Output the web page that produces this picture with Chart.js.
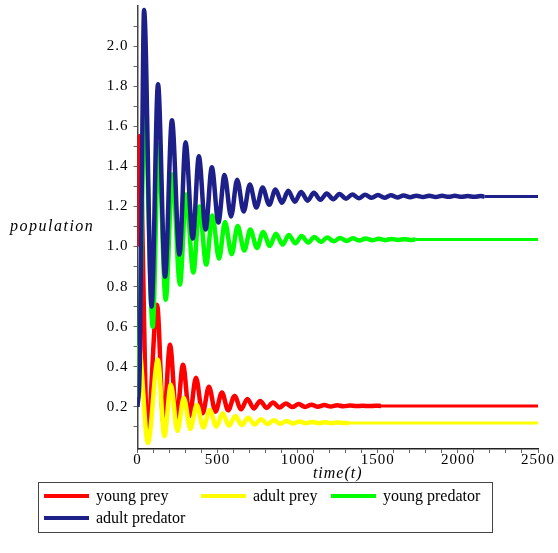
<!DOCTYPE html>
<html>
<head>
<meta charset="utf-8">
<script src="https://cdn.jsdelivr.net/npm/chart.js@4.4.1/dist/chart.umd.min.js"></script>
<style>
  html, body { margin: 0; padding: 0; background: #fff; }
  #wrap { width: 558px; height: 553px; position: relative; font-family: "Liberation Serif", "DejaVu Serif", serif; }
  #ylabel { position: absolute; left: 10px; top: 217px; font-style: italic; font-size: 16px; letter-spacing: 1.5px; }
  #legend { position: absolute; left: 38px; top: 482px; width: 453px; border: 1px solid #444;
            display: flex; flex-wrap: wrap; padding: 2px 0 3px 0; font-size: 16px; }
  #legend .item { display: flex; align-items: center; height: 22px; }
  #legend .swatch { width: 45px; height: 4px; margin: 0 7px 0 5px; }
</style>
</head>
<body>
<div id="wrap">
  <canvas id="chart" width="558" height="553"></canvas>
  <div id="ylabel">population</div>
  <div id="legend"></div>
</div>
<script>
// population curves: [time, value] at start, each peak/trough, and where the wiggle stops
const youngPrey = [[0,1.0],[12,1.55],[62,0.06],[122,0.71],[163,0.115],[203,0.51],[244,0.14],[284,0.41],[325,0.155],[365,0.345],
  [406,0.168],[446,0.30],[487,0.176],[527,0.272],[566,0.183],[606,0.255],[646,0.188],[686,0.24],[726,0.192],[766,0.23],
  [806,0.195],[846,0.222],[886,0.197],[926,0.217],[966,0.199],[1006,0.214],[1046,0.2],[1086,0.211],[1126,0.201],[1166,0.209],
  [1206,0.202],[1246,0.208],[1286,0.203],[1326,0.207],[1366,0.204],[1406,0.206],[1446,0.204],[1486,0.206],[1520,0.205],[2500,0.205]];

const adultPrey = [[0,0.25],[8,0.5],[65,0.02],[127,0.435],[168,0.055],[208,0.31],[249,0.08],[289,0.245],[330,0.09],[370,0.21],
  [411,0.097],[451,0.185],[492,0.102],[532,0.168],[571,0.106],[611,0.155],[651,0.109],[691,0.146],[731,0.112],[771,0.139],
  [811,0.114],[851,0.134],[891,0.116],[931,0.13],[971,0.117],[1011,0.127],[1051,0.118],[1091,0.125],[1131,0.119],[1171,0.123],
  [1211,0.119],[1251,0.122],[1291,0.12],[1320,0.12],[2500,0.12]];

const youngPredator = [[0,0.25],[20,0.8],[44,1.74],[95,0.6],[131,1.51],[176,0.735],[218,1.36],[265,0.81],[303,1.26],[349,0.87],
  [386,1.2],[429,0.91],[467,1.155],[509,0.94],[546,1.122],[588,0.962],[625,1.102],[667,0.98],[704,1.085],[746,0.993],
  [784,1.073],[826,1.003],[864,1.064],[906,1.01],[944,1.057],[986,1.016],[1024,1.052],[1066,1.02],[1104,1.048],[1146,1.023],
  [1184,1.045],[1226,1.026],[1264,1.043],[1306,1.028],[1344,1.041],[1386,1.03],[1424,1.04],[1466,1.031],[1504,1.039],[1546,1.032],
  [1584,1.038],[1626,1.033],[1664,1.037],[1706,1.033],[1735,1.035],[2500,1.035]];

const adultPredator = [[0,0.2],[14,0.4],[28,1.4],[41,2.18],[88,0.70],[128,1.81],[172,0.85],[215,1.63],[262,0.96],[300,1.52],
  [345,1.04],[383,1.45],[425,1.085],[464,1.395],[505,1.12],[543,1.357],[584,1.15],[622,1.333],[663,1.175],[701,1.31],
  [742,1.195],[781,1.295],[822,1.208],[861,1.284],[902,1.218],[941,1.278],[982,1.224],[1021,1.272],[1062,1.229],[1101,1.268],
  [1142,1.233],[1181,1.265],[1222,1.236],[1261,1.262],[1302,1.239],[1341,1.26],[1382,1.241],[1421,1.258],[1462,1.243],[1501,1.257],
  [1542,1.244],[1581,1.256],[1622,1.245],[1661,1.255],[1702,1.246],[1741,1.254],[1782,1.247],[1821,1.254],[1862,1.247],[1901,1.253],
  [1942,1.248],[1981,1.253],[2022,1.248],[2061,1.252],[2102,1.248],[2141,1.252],[2165,1.25],[2500,1.25]];

const SERIES = [
  { label: "young prey", data: youngPrey, color: "#ff0000" },
  { label: "adult prey", data: adultPrey, color: "#ffff00" },
  { label: "young predator", data: youngPredator, color: "#00ff00" },
  { label: "adult predator", data: adultPredator, color: "#1c2088" },
];

const X_TICKS = [0,100,200,300,400,500,600,700,800,900,1000,1100,1200,1300,1400,1500,1600,1700,1800,1900,2000,2100,2200,2300,2400,2500];
const X_LABELED = [0, 500, 1000, 1500, 2000, 2500];
const Y_TICKS = [0.1,0.2,0.3,0.4,0.5,0.6,0.7,0.8,0.9,1.0,1.1,1.2,1.3,1.4,1.5,1.6,1.7,1.8,1.9,2.0,2.1];
const Y_LABELED = [0.2,0.4,0.6,0.8,1.0,1.2,1.4,1.6,1.8,2.0];

const serif = "'Liberation Serif', 'DejaVu Serif', serif";
const tickFont = { family: serif, size: 15 };

const datasets = SERIES.map((s, i) => ({
  label: s.label,
  data: s.data.map(([t, v]) => ({ x: t, y: v })),
  borderColor: s.color,
  backgroundColor: s.color,
  borderWidth: 4.5,
  pointRadius: 0,
  cubicInterpolationMode: "monotone",
  // the settled tail is drawn thinner than the wiggly part
  segment: { borderWidth: (ctx) => (ctx.p1DataIndex === s.data.length - 1 ? 3 : 4.5) },
  order: SERIES.length - i, // later series drawn on top, like the original
}));

// slight letter spacing on canvas text, the original's labels are spread out
const spacing = {
  id: "spacing",
  beforeUpdate: (c) => { c.ctx.letterSpacing = "1px"; },
  beforeDraw: (c) => { c.ctx.letterSpacing = "1px"; },
};

const chart = new Chart(document.getElementById("chart"), {
  type: "line",
  data: { datasets },
  plugins: [spacing],
  options: {
    responsive: false,
    animation: false,
    layout: { padding: { left: 33, right: 20, top: 6, bottom: 70 } },
    plugins: { legend: { display: false }, tooltip: { enabled: false } },
    scales: {
      x: {
        type: "linear", min: 0, max: 2500,
        afterBuildTicks: (s) => { s.ticks = X_TICKS.map((v) => ({ value: v })); },
        afterFit: (s) => { s.height = 34; },
        ticks: {
          autoSkip: false, maxRotation: 0, padding: -2, color: "#000", font: tickFont,
          callback: (v) => (X_LABELED.includes(v) ? String(v) : ""),
        },
        grid: { drawOnChartArea: false, tickLength: 4, tickColor: "#666" },
        border: { color: "#222", width: 1.5 },
        title: { display: true, text: "time(t)", padding: 0, color: "#000",
                 font: { family: serif, size: 16, style: "italic" } },
      },
      y: {
        type: "linear", min: -0.01, max: 2.2,
        afterBuildTicks: (s) => { s.ticks = Y_TICKS.map((v) => ({ value: v })); },
        afterFit: (s) => { s.width = 104.5; s.paddingTop = 0; s.paddingBottom = 0; },
        ticks: {
          autoSkip: false, padding: 5, color: "#000", font: tickFont,
          callback: (v) => (Y_LABELED.some((l) => Math.abs(l - v) < 1e-6) ? v.toFixed(1) : ""),
        },
        grid: { drawOnChartArea: false, tickLength: 4, tickColor: "#666" },
        border: { color: "#444", width: 1.5 },
      },
    },
  },
});

// html legend built from the series list, in the original order
const legendEl = document.getElementById("legend");
const itemWidths = [157, 130, 160, 157];
SERIES.forEach((s, i) => {
  const item = document.createElement("div");
  item.className = "item";
  item.style.width = itemWidths[i] + "px";
  item.innerHTML = `<span class="swatch" style="background:${s.color}"></span><span>${s.label}</span>`;
  legendEl.appendChild(item);
});
</script>
</body>
</html>
